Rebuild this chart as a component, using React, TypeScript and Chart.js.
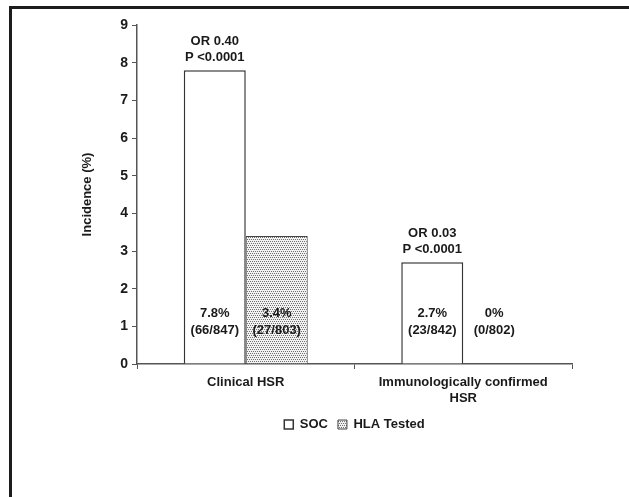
import { useEffect, useRef } from 'react';
import { Chart, registerables } from 'chart.js';

Chart.register(...registerables);

const categories = [['Clinical HSR'], ['Immunologically confirmed', 'HSR']];
const seriesNames = ['SOC', 'HLA Tested'];
const socValues = [7.8, 2.7];
const hlaValues = [3.4, 0];
const socPct = ['7.8%', '2.7%'];
const socCounts = ['(66/847)', '(23/842)'];
const hlaPct = ['3.4%', '0%'];
const hlaCounts = ['(27/803)', '(0/802)'];
const orLabels = ['OR 0.40', 'OR 0.03'];
const pLabels = ['P <0.0001', 'P <0.0001'];
const yMin = 0;
const yMax = 9;
const yStep = 1;
const yTitle = 'Incidence (%)';

const FONT = '"Liberation Sans", Arial, sans-serif';
const TEXT = '#1a1a1a';

function makePattern(): CanvasPattern | string {
  const c = document.createElement('canvas');
  c.width = 4;
  c.height = 4;
  const g = c.getContext('2d');
  if (!g) return '#ccc';
  g.fillStyle = '#f2f2f2';
  g.fillRect(0, 0, 4, 4);
  g.fillStyle = '#707070';
  g.fillRect(0, 0, 1, 1);
  g.fillRect(2, 0, 1, 1);
  g.fillRect(1, 2, 1, 1);
  g.fillRect(3, 2, 1, 1);
  const p = g.createPattern(c, 'repeat');
  return p || '#ccc';
}

const annotPlugin = {
  id: 'annot',
  afterDatasetsDraw(chart: any) {
    const ctx = chart.ctx;
    const ys = chart.scales.y;
    ctx.save();
    ctx.font = `bold 13px ${FONT}`;
    ctx.fillStyle = TEXT;
    ctx.textAlign = 'center';
    ctx.textBaseline = 'middle';
    const m0 = chart.getDatasetMeta(0);
    const m1 = chart.getDatasetMeta(1);
    const yPct = ys.getPixelForValue(1.33);
    const yCnt = ys.getPixelForValue(0.88);
    m0.data.forEach((bar: any, i: number) => {
      ctx.fillText(orLabels[i], bar.x, bar.y - 29);
      ctx.fillText(pLabels[i], bar.x, bar.y - 13);
      ctx.fillText(socPct[i], bar.x, yPct);
      ctx.fillText(socCounts[i], bar.x, yCnt);
    });
    m1.data.forEach((bar: any, i: number) => {
      ctx.fillText(hlaPct[i], bar.x, yPct);
      ctx.fillText(hlaCounts[i], bar.x, yCnt);
    });
    ctx.restore();
  },
};

export default function App() {
  const ref = useRef<HTMLCanvasElement | null>(null);

  useEffect(() => {
    if (!ref.current) return;
    const pattern = makePattern();
    const chart = new Chart(ref.current, {
      type: 'bar',
      data: {
        labels: categories as any,
        datasets: [
          {
            label: seriesNames[0],
            data: socValues,
            backgroundColor: '#ffffff',
            borderColor: '#333333',
            borderWidth: 1.5,
            categoryPercentage: 0.57,
            barPercentage: 1,
          },
          {
            label: seriesNames[1],
            data: hlaValues,
            backgroundColor: pattern as any,
            borderColor: '#444444',
            borderWidth: 1,
            categoryPercentage: 0.57,
            barPercentage: 1,
          },
        ],
      },
      options: {
        responsive: false,
        animation: false,
        devicePixelRatio: 1,
        layout: { padding: { left: 68, right: 57, top: 16, bottom: 56 } },
        plugins: {
          tooltip: { enabled: false },
          legend: {
            position: 'bottom',
            fullSize: false,
            labels: {
              boxWidth: 9,
              boxHeight: 9,
              padding: 10,
              color: TEXT,
              font: { family: FONT, size: 13, weight: 'bold' },
            },
          },
        },
        scales: {
          x: {
            grid: { drawOnChartArea: false, tickLength: 5, color: '#555', offset: true },
            border: { color: '#555', width: 1.5 },
            ticks: {
              color: TEXT,
              font: { family: FONT, size: 13, weight: 'bold' },
              padding: 6,
              maxRotation: 0,
              autoSkip: false,
            },
            afterFit(s: any) {
              s.height = 44;
            },
          },
          y: {
            min: yMin,
            max: yMax,
            ticks: {
              stepSize: yStep,
              color: TEXT,
              padding: 4,
              font: { family: FONT, size: 14, weight: 'bold' },
            },
            grid: { drawOnChartArea: false, tickLength: 5, color: '#555' },
            border: { color: '#555', width: 1.5 },
            title: {
              display: true,
              text: yTitle,
              color: TEXT,
              padding: 0,
              font: { family: FONT, size: 13, weight: 'bold' },
            },
            afterFit(s: any) {
              s.width = 57;
            },
          },
        },
      },
      plugins: [annotPlugin],
    });
    return () => chart.destroy();
  }, []);

  return (
    <div
      style={{
        position: 'fixed',
        top: 6,
        left: 9,
        width: 640,
        height: 510,
        borderTop: '3px solid #1c1c1c',
        borderLeft: '3px solid #1c1c1c',
        background: '#fff',
      }}
    >
      <canvas ref={ref} width={617} height={488} style={{ display: 'block' }} />
    </div>
  );
}
